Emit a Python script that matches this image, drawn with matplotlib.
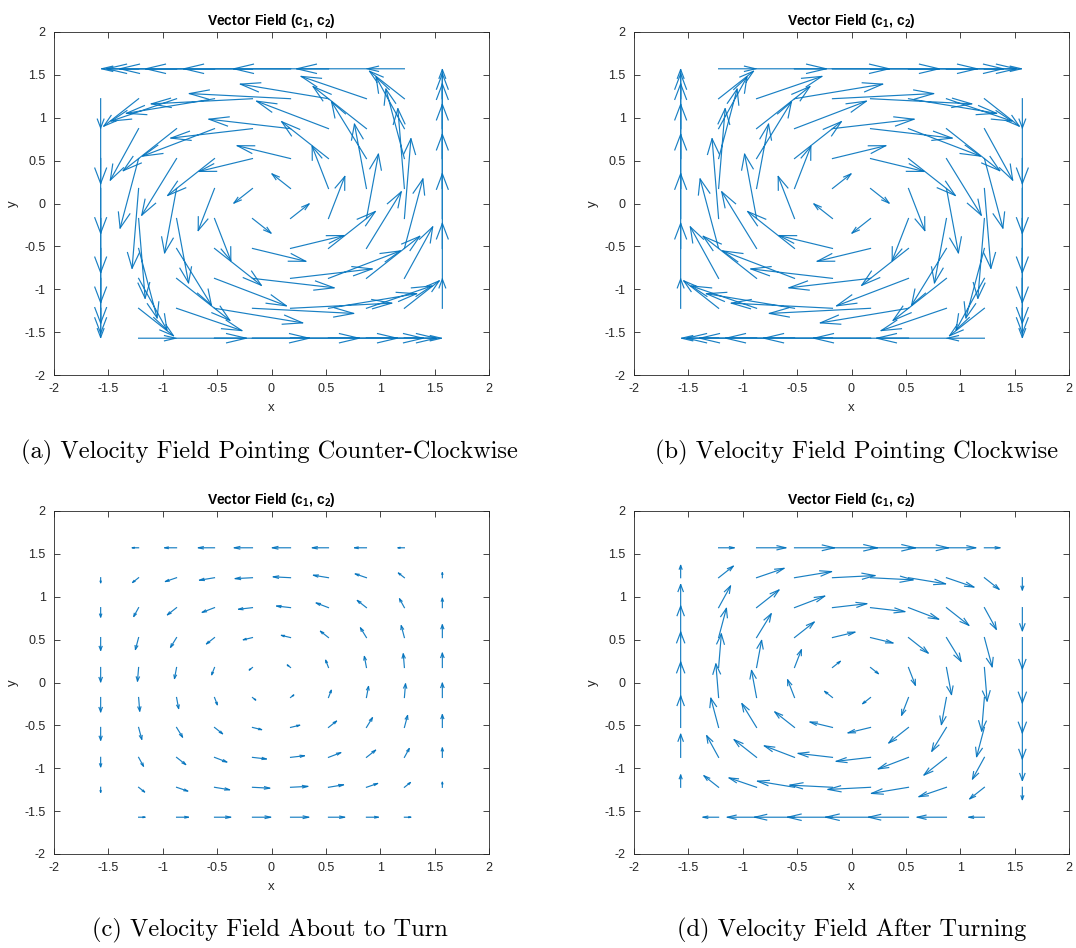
import numpy as np
import matplotlib
matplotlib.use("Agg")
import matplotlib.pyplot as plt

plt.rcParams['font.family'] = ['Liberation Sans', 'DejaVu Sans']
plt.rcParams['axes.unicode_minus'] = False
plt.rcParams['mathtext.fontset'] = 'custom'
plt.rcParams['mathtext.rm'] = 'Liberation Sans'
plt.rcParams['mathtext.bf'] = 'Liberation Sans:bold'

# grid points (x and y use the same values)
grid = [-1.571, -1.222, -0.873, -0.524, -0.175, 0.175, 0.524, 0.873, 1.222, 1.571]

# base field, rows go bottom -> top, columns left -> right
u_base = [
    [0, 0.34, 0.64, 0.87, 0.98, 0.98, 0.87, 0.64, 0.34, 0],
    [0, 0.32, 0.60, 0.81, 0.93, 0.93, 0.81, 0.60, 0.32, 0],
    [0, 0.26, 0.49, 0.66, 0.75, 0.75, 0.66, 0.49, 0.26, 0],
    [0, 0.17, 0.32, 0.43, 0.49, 0.49, 0.43, 0.32, 0.17, 0],
    [0, 0.06, 0.11, 0.15, 0.17, 0.17, 0.15, 0.11, 0.06, 0],
    [0, -0.06, -0.11, -0.15, -0.17, -0.17, -0.15, -0.11, -0.06, 0],
    [0, -0.17, -0.32, -0.43, -0.49, -0.49, -0.43, -0.32, -0.17, 0],
    [0, -0.26, -0.49, -0.66, -0.75, -0.75, -0.66, -0.49, -0.26, 0],
    [0, -0.32, -0.60, -0.81, -0.93, -0.93, -0.81, -0.60, -0.32, 0],
    [0, -0.34, -0.64, -0.87, -0.98, -0.98, -0.87, -0.64, -0.34, 0],
]
v_base = [
    [0, 0, 0, 0, 0, 0, 0, 0, 0, 0],
    [-0.34, -0.32, -0.26, -0.17, -0.06, 0.06, 0.17, 0.26, 0.32, 0.34],
    [-0.64, -0.60, -0.49, -0.32, -0.11, 0.11, 0.32, 0.49, 0.60, 0.64],
    [-0.87, -0.81, -0.66, -0.43, -0.15, 0.15, 0.43, 0.66, 0.81, 0.87],
    [-0.98, -0.93, -0.75, -0.49, -0.17, 0.17, 0.49, 0.75, 0.93, 0.98],
    [-0.98, -0.93, -0.75, -0.49, -0.17, 0.17, 0.49, 0.75, 0.93, 0.98],
    [-0.87, -0.81, -0.66, -0.43, -0.15, 0.15, 0.43, 0.66, 0.81, 0.87],
    [-0.64, -0.60, -0.49, -0.32, -0.11, 0.11, 0.32, 0.49, 0.60, 0.64],
    [-0.34, -0.32, -0.26, -0.17, -0.06, 0.06, 0.17, 0.26, 0.32, 0.34],
    [0, 0, 0, 0, 0, 0, 0, 0, 0, 0],
]

# strength of the field in each panel (sign = direction of rotation)
strengths = [1.0, -1.0, 0.17, -0.42]
captions = ['(a) Velocity Field Pointing Counter-Clockwise',
            '(b) Velocity Field Pointing Clockwise',
            '(c) Velocity Field About to Turn',
            '(d) Velocity Field After Turning']

ticks = [-2, -1.5, -1, -0.5, 0, 0.5, 1, 1.5, 2]
tick_labels = ['-2', '-1.5', '-1', '-0.5', '0', '0.5', '1', '1.5', '2']

W, H = 1076, 948
# axes boxes in pixels: left, top, right, bottom
boxes = [(54, 32, 489, 375), (634, 32, 1069, 375),
         (54, 511, 489, 854), (634, 511, 1069, 854)]
cap_pos = [(269, 452), (857, 452), (270, 930), (852, 930)]

blue = '#0072BD'
dark = '#262626'


def matlab_quiver(ax, X, Y, U, V, alpha=0.3, beta=0.3, max_head=0.18):
    # shafts + open "V" heads, like matlab quiver with scale off
    sx, sy, hx, hy = [], [], [], []
    for x0, y0, u, v in zip(X.ravel(), Y.ravel(), U.ravel(), V.ravel()):
        L = np.hypot(u, v)
        if L < 1e-9:
            continue
        tx, ty = x0 + u, y0 + v
        sx += [x0, tx, np.nan]
        sy += [y0, ty, np.nan]
        dx, dy = u / L, v / L
        h = min(alpha * L, max_head)
        px, py = -dy, dx
        hx += [tx - h * dx + beta * h * px, tx, tx - h * dx - beta * h * px, np.nan]
        hy += [ty - h * dy + beta * h * py, ty, ty - h * dy - beta * h * py, np.nan]
    ax.plot(sx, sy, color=blue, lw=0.85, alpha=0.9)
    ax.plot(hx, hy, color=blue, lw=0.85, alpha=0.9)


fig = plt.figure(figsize=(W / 100, H / 100), dpi=100)
X, Y = np.meshgrid(grid, grid)
U0 = np.array(u_base)
V0 = np.array(v_base)

for k in range(4):
    l, t, r, b = boxes[k]
    ax = fig.add_axes([l / W, 1 - b / H, (r - l) / W, (b - t) / H])
    matlab_quiver(ax, X, Y, strengths[k] * U0, strengths[k] * V0)
    ax.set_xlim(-2, 2)
    ax.set_ylim(-2, 2)
    ax.set_xticks(ticks)
    ax.set_yticks(ticks)
    ax.set_xticklabels(tick_labels)
    ax.set_yticklabels(tick_labels)
    ax.tick_params(direction='in', top=True, right=True, length=4, width=0.6,
                   labelsize=9, colors=dark, pad=6)
    for s in ax.spines.values():
        s.set_color(dark)
        s.set_linewidth(0.6)
    ax.set_xlabel('x', fontsize=9.5, color=dark, labelpad=5)
    ax.set_ylabel('y', fontsize=9.5, color=dark, labelpad=4)
    ax.set_title(r'Vector Field ($\mathbf{c}_\mathbf{1}$, $\mathbf{c}_\mathbf{2}$)',
                 fontsize=10, fontweight='bold', color='black', pad=5)
    cx, cy = cap_pos[k]
    fig.text(cx / W, 1 - cy / H, captions[k], family='cmr10', fontsize=17.6,
             ha='center', va='center', color='black')

fig.savefig('out.png', dpi=100)
